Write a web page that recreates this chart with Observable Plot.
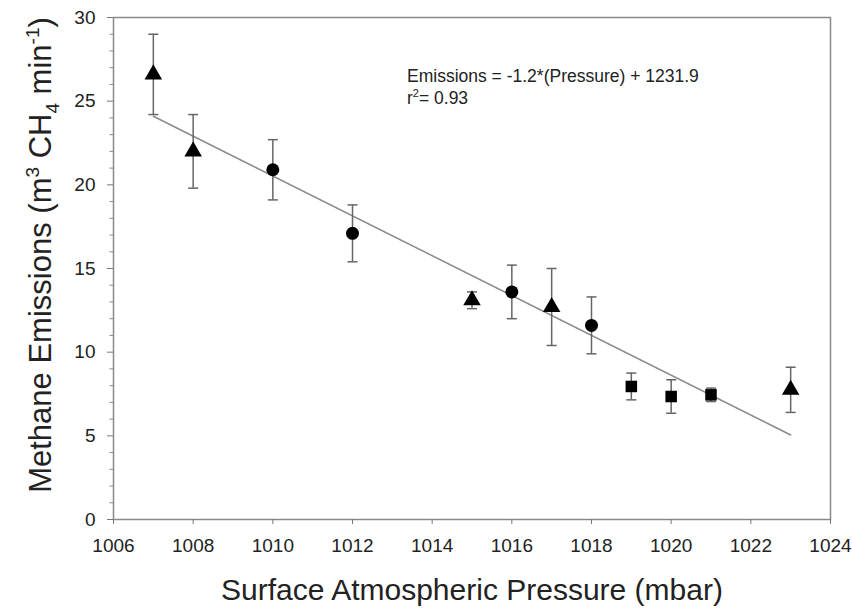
<!DOCTYPE html>
<html><head><meta charset="utf-8">
<script src="https://cdn.jsdelivr.net/npm/d3@7"></script>
<script src="https://cdn.jsdelivr.net/npm/@observablehq/plot@0.6"></script>
<style>
body{margin:0;background:#fff}
svg{font-family:"Liberation Sans",Arial,sans-serif}
</style>
</head><body><div id="chart"></div>
<script>
// Data
const pressure   = [1007, 1008, 1010, 1012, 1015, 1016, 1017, 1018, 1019, 1020, 1021, 1023];
const emissions  = [26.6, 22.0, 20.9, 17.1, 13.1, 13.6, 12.7, 11.6, 7.95, 7.35, 7.45, 7.75];
const errors     = [2.4, 2.2, 1.8, 1.7, 0.5, 1.6, 2.3, 1.7, 0.8, 1.0, 0.4, 1.35];
const markerType = ["triangle","triangle","circle","circle","triangle","circle","triangle","circle","square","square","square","triangle"];
const fitPressure  = [1007, 1023];
const fitEmissions = [24.1, 5.05];
const xTicks = [1006, 1008, 1010, 1012, 1014, 1016, 1018, 1020, 1022, 1024];
const yTicks = [0, 5, 10, 15, 20, 25, 30];
const yMinorTicks = [1,2,3,4,6,7,8,9,11,12,13,14,16,17,18,19,21,22,23,24,26,27,28,29];
const equationText = "Emissions = -1.2*(Pressure) + 1231.9";
const r2Value = "= 0.93";

const rows = pressure.map((p, i) => ({p, e: emissions[i], lo: emissions[i] - errors[i], hi: emissions[i] + errors[i], type: markerType[i]}));
const fit = fitPressure.map((p, i) => ({p, e: fitEmissions[i]}));

const capSymbol = {draw(ctx, size) { const r = Math.sqrt(size / Math.PI); ctx.moveTo(-r, 0); ctx.lineTo(r, 0); }};
const leftTickSymbol = {draw(ctx, size) { const r = Math.sqrt(size / Math.PI); ctx.moveTo(-r, 0); ctx.lineTo(0, 0); }};

const chart = Plot.plot({
  width: 852, height: 608,
  marginLeft: 113, marginRight: 22, marginTop: 17, marginBottom: 89,
  style: {fontFamily: '"Liberation Sans", Arial, sans-serif', fontSize: "19px", color: "#222", background: "#fff"},
  x: {domain: [1006, 1024]},
  y: {domain: [0, 30]},
  marks: [
    Plot.frame({stroke: "#8a8a8a", strokeWidth: 1.5}),
    Plot.axisX({ticks: xTicks, tickFormat: d => String(d), tickSize: 5, tickPadding: 14, label: null, stroke: "#777", fontSize: 19, fill: "#222"}),
    Plot.axisY({ticks: yTicks, tickSize: 6, tickPadding: 12, label: null, stroke: "#777", fontSize: 19, fill: "#222"}),
    Plot.dot(yMinorTicks, {y: d => d, frameAnchor: "left", symbol: leftTickSymbol, r: 4, stroke: "#888", strokeWidth: 1}),
    Plot.line(fit, {x: "p", y: "e", stroke: "#8a8a8a", strokeWidth: 1.5}),
    Plot.ruleX(rows, {x: "p", y1: "lo", y2: "hi", stroke: "#666", strokeWidth: 1.5}),
    Plot.dot(rows, {x: "p", y: "lo", symbol: capSymbol, r: 5, stroke: "#666", strokeWidth: 1.5}),
    Plot.dot(rows, {x: "p", y: "hi", symbol: capSymbol, r: 5, stroke: "#666", strokeWidth: 1.5}),
    Plot.dot(rows, {x: "p", y: "e", symbol: "type", r: 6.5, fill: "#000", stroke: null})
  ]
});
document.getElementById("chart").appendChild(chart);

const svg = d3.select(chart);
const font = '"Liberation Sans", Arial, sans-serif';
// Equation annotation
svg.append("text").attr("x", 407).attr("y", 82).attr("text-anchor", "start").attr("font-size", 17.5).attr("fill", "#222").attr("font-family", font).text(equationText);
const r2 = svg.append("text").attr("x", 407).attr("y", 104).attr("text-anchor", "start").attr("font-size", 17.5).attr("fill", "#222").attr("font-family", font);
r2.append("tspan").text("r");
r2.append("tspan").attr("dy", -7).attr("font-size", 11).text("2");
r2.append("tspan").attr("dy", 7).text(r2Value);
// X axis title
svg.append("text").attr("x", 472).attr("y", 600).attr("text-anchor", "middle").attr("font-size", 30).attr("fill", "#222").attr("font-family", font).text("Surface Atmospheric Pressure (mbar)");
// Y axis title
const yt = svg.append("text").attr("transform", "translate(51,255) rotate(-90)").attr("text-anchor", "middle").attr("font-size", 31).attr("fill", "#222").attr("font-family", font);
yt.append("tspan").text("Methane Emissions (m");
yt.append("tspan").attr("dy", -12).attr("font-size", 19).text("3");
yt.append("tspan").attr("dy", 12).text(" CH");
yt.append("tspan").attr("dy", 8).attr("font-size", 19).text("4");
yt.append("tspan").attr("dy", -8).text(" min");
yt.append("tspan").attr("dy", -12).attr("font-size", 19).text("-1");
yt.append("tspan").attr("dy", 12).text(")");
</script>
</body></html>
